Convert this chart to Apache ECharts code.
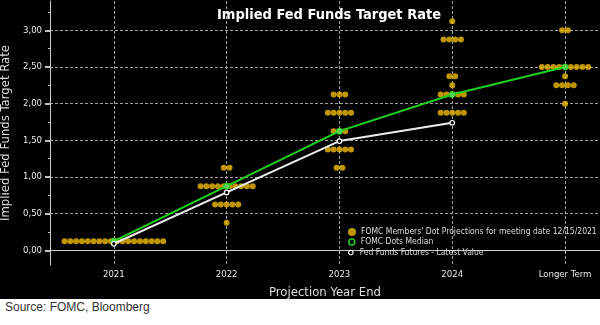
<!DOCTYPE html>
<html><head><meta charset="utf-8">
<script src="https://cdn.jsdelivr.net/npm/echarts@6/dist/echarts.min.js"></script>
<style>
html,body{margin:0;padding:0;background:#fff;}
#wrap{width:600px;height:325px;position:relative;overflow:hidden;}
#chart{position:absolute;left:0;top:0;width:600px;height:299px;background:#000;}
#src{position:absolute;left:5px;top:300px;font:12px "Liberation Sans",Arial,sans-serif;color:#333;}
</style></head><body>
<div id="wrap"><div id="chart"></div><div id="src">Source: FOMC, Bloomberg</div></div>
<script>
const categories = ['2021', '2022', '2023', '2024', 'Longer Term'];
const dotRates = [
  [0.125],
  [1.125, 0.875, 0.625, 0.375],
  [2.125, 1.875, 1.625, 1.375, 1.125],
  [3.125, 2.875, 2.375, 2.25, 2.125, 1.875],
  [3.0, 2.5, 2.375, 2.25, 2.0]
];
const dotCounts = [
  [18],
  [2, 10, 5, 1],
  [3, 5, 3, 5, 2],
  [1, 4, 2, 1, 5, 5],
  [2, 9, 1, 4, 1]
];
const medianRates = [0.125, 0.875, 1.625, 2.125, 2.5];
const futuresRates = [0.09, 0.79, 1.49, 1.74];
const yLabelValues = [0, 0.5, 1, 1.5, 2, 2.5, 3];
const yMinorValues = [0.25, 0.75, 1.25, 1.75, 2.25, 2.75, 3.25];

const FONT = '"DejaVu Sans Condensed","DejaVu Sans",sans-serif';
const DOT_NAME = "FOMC Members' Dot Projections for meeting date 12/15/2021";
const MED_NAME = 'FOMC Dots Median';
const FUT_NAME = 'Fed Funds Futures - Latest Value';
const GOLD = '#f0bc00';
const GREEN = '#1ed21e';
const DOT_SPACING = 5.8;

const xPos = categories.map((c, i) => 2021 + i);

const dotData = [];
dotRates.forEach((rates, ci) => {
  rates.forEach((r, ri) => {
    const n = dotCounts[ci][ri];
    for (let k = 0; k < n; k++) {
      dotData.push({ value: [xPos[ci], r], symbolOffset: [(k - (n - 1) / 2) * DOT_SPACING, 0] });
    }
  });
});

const chart = echarts.init(document.getElementById('chart'), null, { renderer: 'canvas' });
const legendCommon = {
  left: 348, orient: 'horizontal', itemWidth: 8, icon: 'circle', padding: 0,
  textStyle: { color: '#dddddd', fontSize: 8.5, fontFamily: FONT, lineHeight: 10 },
  selectedMode: false
};
chart.setOption({
  backgroundColor: '#000',
  animation: false,
  textStyle: { fontFamily: FONT },
  title: {
    text: 'Implied Fed Funds Target Rate', left: 212, top: 3,
    textStyle: { color: '#fff', fontSize: 14.5, fontWeight: 'bold', fontFamily: FONT }
  },
  legend: [
    Object.assign({}, legendCommon, { top: 227, itemHeight: 8, data: [{ name: DOT_NAME, itemStyle: { color: GOLD } }] }),
    Object.assign({}, legendCommon, { top: 237, itemHeight: 6, data: [{ name: MED_NAME, itemStyle: { color: 'rgba(0,0,0,0)', borderColor: GREEN, borderWidth: 1.5 } }] }),
    Object.assign({}, legendCommon, { top: 247.5, itemHeight: 4.5, data: [{ name: FUT_NAME, itemStyle: { color: 'rgba(0,0,0,0)', borderColor: '#fff', borderWidth: 1.2 } }] })
  ],
  grid: { left: 50, right: 0, top: 1, bottom: 34, containLabel: false, outerBoundsMode: 'none' },
  xAxis: {
    type: 'value', min: 2020.434, max: 2025.31,
    name: 'Projection Year End', nameLocation: 'middle', nameGap: 21,
    nameTextStyle: { color: '#dddddd', fontSize: 13, fontFamily: FONT },
    axisLine: { show: true, lineStyle: { color: '#cccccc', width: 1 } },
    axisTick: { show: true, length: 3, customValues: xPos, lineStyle: { color: '#cccccc' } },
    axisLabel: {
      customValues: xPos, color: '#e8e8e8', fontSize: 9.5, fontFamily: FONT, margin: 5,
      formatter: v => categories[Math.round(v) - 2021] || ''
    },
    splitLine: { show: true, lineStyle: { color: '#a0a0a0', type: [3, 2], width: 1 } }
  },
  yAxis: [{
    type: 'value', min: -0.2, max: 3.4, position: 'left',
    name: 'Implied Fed Funds Target Rate', nameLocation: 'middle', nameGap: 33,
    nameTextStyle: { color: '#dddddd', fontSize: 13, fontFamily: FONT },
    axisLine: { show: true, lineStyle: { color: '#cccccc', width: 1 } },
    axisTick: { show: true, length: 5, customValues: yLabelValues, lineStyle: { color: '#ffffff', width: 1.5 } },
    axisLabel: {
      customValues: yLabelValues, color: '#e8e8e8', fontSize: 9.5, fontFamily: FONT, margin: 8,
      formatter: v => v.toFixed(2).replace('.', ',')
    },
    splitLine: { show: true, lineStyle: { color: '#a0a0a0', type: [3, 2], width: 1 } }
  }, {
    type: 'value', min: -0.2, max: 3.4, position: 'left',
    axisLine: { show: false },
    axisTick: { show: true, length: 2, customValues: yMinorValues, lineStyle: { color: '#cccccc' } },
    axisLabel: { show: false },
    splitLine: { show: false }
  }],
  series: [{
    name: DOT_NAME, type: 'scatter', symbol: 'circle', symbolSize: 6, z: 2,
    itemStyle: { color: GOLD },
    data: dotData
  }, {
    name: MED_NAME, type: 'line', z: 3,
    symbol: 'circle', symbolSize: 6, showSymbol: true,
    lineStyle: { color: GREEN, width: 2 },
    itemStyle: { color: '#55d455', borderColor: GREEN, borderWidth: 1 },
    data: medianRates.map((r, i) => [xPos[i], r])
  }, {
    name: FUT_NAME, type: 'line', z: 4,
    symbol: 'circle', symbolSize: 4.5, showSymbol: true,
    lineStyle: { color: '#eeeeee', width: 2 },
    itemStyle: { color: '#000', borderColor: '#ffffff', borderWidth: 1.2 },
    data: futuresRates.map((r, i) => [xPos[i], r])
  }]
});
</script>
</body></html>
